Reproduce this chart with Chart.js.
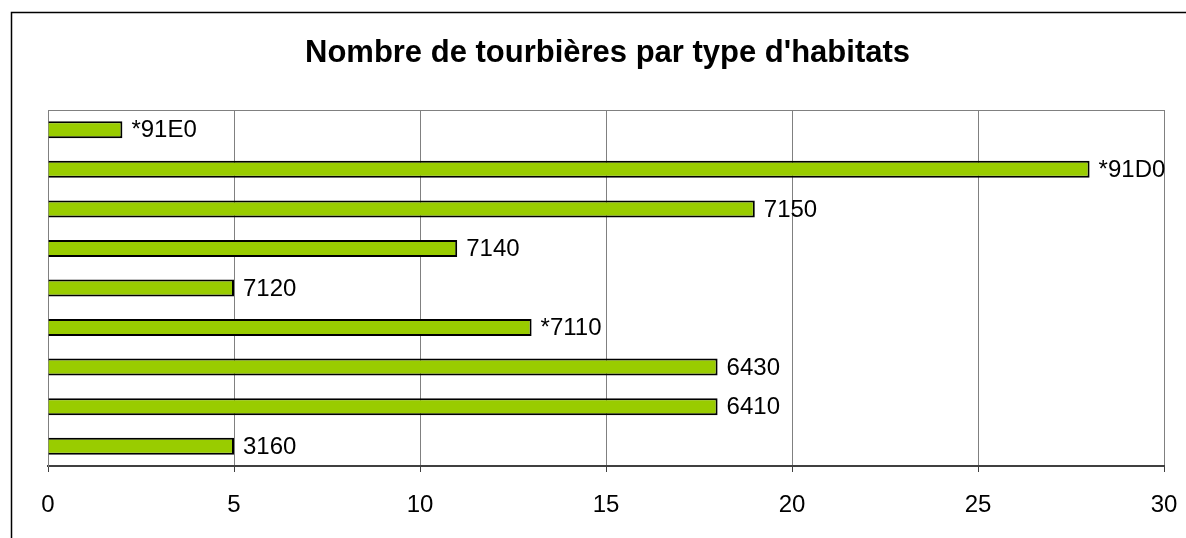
<!DOCTYPE html>
<html>
<head>
<meta charset="utf-8">
<script src="https://cdn.jsdelivr.net/npm/chart.js@4/dist/chart.umd.min.js"></script>
<style>
  body { margin: 0; background: #fff; }
  canvas { display: block; }
</style>
</head>
<body>
<canvas id="container" width="1186" height="538"></canvas>
<script>
let ctx = document.getElementById('container').getContext('2d');
let titre = "Nombre de tourbières par type d'habitats";
let habitats = ['*91E0', '*91D0', '7150', '7140', '7120', '*7110', '6430', '6410', '3160'];
let nombres = [2, 28, 19, 11, 5, 13, 18, 18, 5];
let graduations = [0, 5, 10, 15, 20, 25, 30];

let police = '"Liberation Sans", Arial, sans-serif';

// cadre + titre + bord haut de la zone de tracé
let decor = {
  id: 'decor',
  beforeDraw(chart) {
    let c = chart.ctx;
    let a = chart.chartArea;
    c.save();
    c.strokeStyle = '#000';
    c.lineWidth = 1.5;
    c.strokeRect(11.5, 12.5, 1300, 700);
    c.strokeStyle = '#808080';
    c.lineWidth = 1;
    c.beginPath();
    c.moveTo(a.left, a.top + 0.5);
    c.lineTo(a.right, a.top + 0.5);
    c.stroke();

    // titre étiré horizontalement pour garder l'aspect serré
    c.fillStyle = '#000';
    c.font = 'bold 31px ' + police;
    c.textBaseline = 'alphabetic';
    c.textAlign = 'left';
    let w = c.measureText(titre).width;
    c.translate(305, 62);
    c.scale(605 / w, 1);
    c.fillText(titre, 0, 0);
    c.restore();
  },
  afterDatasetsDraw(chart) {
    let c = chart.ctx;
    let meta = chart.getDatasetMeta(0);
    c.save();
    c.fillStyle = '#000';
    c.font = '24px ' + police;
    c.textBaseline = 'middle';
    c.textAlign = 'left';
    meta.data.forEach((bar, i) => {
      c.fillText(habitats[i], bar.x + 9, bar.y + 1);
    });
    c.restore();
  }
};

let myChart = new Chart(ctx, {
  type: 'bar',
  data: {
    labels: habitats,
    datasets: [{
      data: nombres,
      backgroundColor: '#99CC00',
      borderColor: '#000',
      borderWidth: 2,
      categoryPercentage: 1,
      barPercentage: 0.43
    }]
  },
  options: {
    indexAxis: 'y',
    responsive: false,
    animation: false,
    layout: { padding: { top: 110, right: 22, left: 0, bottom: 0 } },
    plugins: {
      legend: { display: false },
      title: { display: false },
      tooltip: { enabled: false }
    },
    scales: {
      x: {
        min: 0,
        max: 30,
        afterFit: s => { s.height = 72; s.paddingRight = 0; s.paddingLeft = 0; },
        afterBuildTicks: s => { s.ticks = graduations.map(v => ({ value: v })); },
        grid: { color: '#808080', lineWidth: 1, tickLength: 6, tickColor: '#404040' },
        border: { color: '#404040', width: 2 },
        ticks: { color: '#000', font: { family: police, size: 24 }, padding: 19 }
      },
      y: {
        afterFit: s => { s.width = 48; },
        grid: { display: false },
        border: { color: '#808080', width: 1 },
        ticks: { display: false }
      }
    }
  },
  plugins: [decor]
});
</script>
</body>
</html>
